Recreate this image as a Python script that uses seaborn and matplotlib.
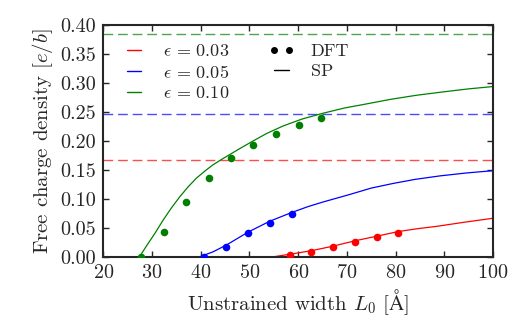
import numpy as np
import pandas as pd
import matplotlib
matplotlib.use("Agg")
import matplotlib.pyplot as plt
from matplotlib.lines import Line2D
import seaborn as sns

# strain levels and their colours
strains = ["0.03", "0.05", "0.10"]
colors = ["red", "blue", "green"]

# saturation values (dashed lines)
limits = [0.167, 0.247, 0.385]

# DFT points
dft_x_03 = [58.3, 62.7, 67.2, 71.6, 76.1, 80.5]
dft_y_03 = [0.003, 0.009, 0.018, 0.026, 0.035, 0.042]
dft_x_05 = [40.7, 45.1, 49.8, 54.2, 58.7]
dft_y_05 = [0.000, 0.018, 0.041, 0.059, 0.075]
dft_x_10 = [27.7, 32.5, 37.0, 41.6, 46.2, 50.8, 55.5, 60.1, 64.7]
dft_y_10 = [0.000, 0.043, 0.095, 0.137, 0.170, 0.194, 0.213, 0.228, 0.240]

# SP model curves
sp_x_03 = [54.5, 58.3, 62.7, 67.2, 71.6, 76.1, 80.5, 84.5, 88.4, 94.0, 100.0]
sp_y_03 = [0.000, 0.005, 0.011, 0.019, 0.028, 0.036, 0.044, 0.049, 0.053, 0.060, 0.067]
sp_x_05 = [39.6, 42.5, 45.3, 49.7, 54.2, 58.7, 62.0, 65.1, 70.6, 75.0, 79.5, 84.0, 89.1, 94.5, 100.0]
sp_y_05 = [0.000, 0.009, 0.021, 0.043, 0.062, 0.077, 0.087, 0.095, 0.108, 0.119, 0.127, 0.134, 0.140, 0.145, 0.149]
sp_x_10 = [27.4, 29.0, 30.6, 32.3, 34.0, 35.7, 37.4, 39.1, 40.8, 42.5, 44.2, 46.0, 48.2,
           50.5, 53.5, 56.9, 60.8, 65.1, 69.5, 74.0, 79.0, 84.3, 90.0, 95.0, 100.0]
sp_y_10 = [0.000, 0.021, 0.041, 0.064, 0.085, 0.104, 0.121, 0.136, 0.148, 0.159, 0.168, 0.177, 0.188,
           0.199, 0.213, 0.226, 0.238, 0.248, 0.257, 0.264, 0.272, 0.279, 0.285, 0.290, 0.294]

sns.set_style("ticks")
plt.rcParams["font.family"] = ["cmr10", "DejaVu Serif"]
plt.rcParams["mathtext.fontset"] = "cm"
plt.rcParams["axes.formatter.use_mathtext"] = True
plt.rcParams["axes.unicode_minus"] = False

fig, ax = plt.subplots(figsize=(5.19, 3.21), dpi=100)
fig.subplots_adjust(left=0.199, right=0.95, top=0.922, bottom=0.199)

dft = [(dft_x_03, dft_y_03), (dft_x_05, dft_y_05), (dft_x_10, dft_y_10)]
sp = [(sp_x_03, sp_y_03), (sp_x_05, sp_y_05), (sp_x_10, sp_y_10)]

for (sx, sy), (dx, dy), lim, c in zip(sp, dft, limits, colors):
    ax.axhline(lim, color=c, lw=1, ls=(0, (7, 3.5)), alpha=0.7)
    sns.lineplot(x=sx, y=sy, color=c, lw=0.9, ax=ax)
    sns.scatterplot(x=dx, y=dy, color=c, s=30, linewidth=0, ax=ax, zorder=3)

ax.set_xlim(20, 100)
ax.set_ylim(0, 0.40)
ax.set_xticks(range(20, 101, 10))
ax.set_yticks(np.arange(0, 0.401, 0.05))
ax.yaxis.set_major_formatter(matplotlib.ticker.FormatStrFormatter("%.2f"))
ax.tick_params(direction="in", top=True, right=True, length=4.5, width=1,
               labelsize=14.5, pad=5)
for sp_ in ax.spines.values():
    sp_.set_linewidth(1.5)
    sp_.set_visible(True)

ax.set_xlabel(r"Unstrained width $L_0$ [$\mathrm{\AA}$]", fontsize=15)
ax.set_ylabel(r"Free charge density $[e/b]$", fontsize=15)

handles = [Line2D([], [], color=c, lw=1) for c in colors]
labels = [r"$\epsilon\,=\,%s$" % s for s in strains]
handles += [Line2D([], [], color="black", marker="o", ls="none", markersize=4),
            Line2D([], [], color="black", lw=1)]
labels += ["DFT", "SP"]
leg = ax.legend(handles, labels,
                ncol=2, loc="upper left", frameon=False, fontsize=13,
                handlelength=1.4, handletextpad=0.9, numpoints=2, columnspacing=2.2,
                borderaxespad=0.6, labelspacing=0.25)

fig.savefig("out.png", dpi=100)
